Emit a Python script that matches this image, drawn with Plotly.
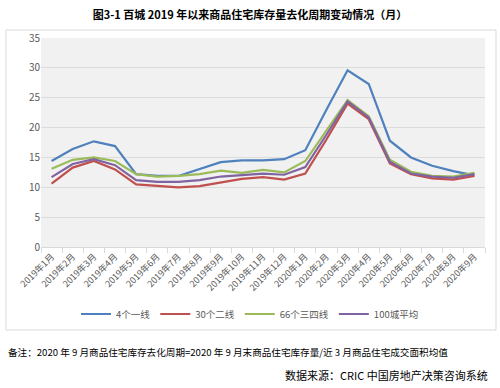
import plotly.graph_objects as go

months = ["2019年1月", "2019年2月", "2019年3月", "2019年4月", "2019年5月", "2019年6月",
          "2019年7月", "2019年8月", "2019年9月", "2019年10月", "2019年11月", "2019年12月",
          "2020年1月", "2020年2月", "2020年3月", "2020年4月", "2020年5月", "2020年6月",
          "2020年7月", "2020年8月", "2020年9月"]

tier1 = [14.4, 16.4, 17.7, 16.9, 12.2, 11.9, 11.9, 13.0, 14.2, 14.5, 14.5, 14.7,
         16.2, 23.0, 29.6, 27.3, 17.8, 15.0, 13.6, 12.7, 12.0]
tier2 = [10.6, 13.3, 14.4, 13.0, 10.5, 10.2, 10.0, 10.2, 10.8, 11.4, 11.7, 11.3,
         12.3, 18.0, 24.0, 21.4, 14.0, 12.2, 11.5, 11.3, 11.9]
tier34 = [13.1, 14.6, 15.0, 14.4, 12.2, 11.8, 11.9, 12.2, 12.8, 12.4, 12.9, 12.5,
          14.4, 19.5, 24.6, 21.9, 14.6, 12.6, 11.9, 11.8, 12.4]
avg100 = [11.7, 13.9, 14.7, 13.7, 11.2, 10.9, 10.9, 11.2, 11.8, 12.1, 12.3, 12.1,
          13.4, 18.8, 24.4, 21.7, 14.3, 12.3, 11.8, 11.6, 12.2]

series_names = ["4个一线", "30个二线", "66个三四线", "100城平均"]
series_values = [tier1, tier2, tier34, avg100]
colors = ["#4F81BD", "#C0504D", "#9BBB59", "#8064A2"]

y_ticks = [0, 5, 10, 15, 20, 25, 30, 35]

FONT = "Noto Sans CJK SC"
W, H = 500, 388
ML, MR, MT, MB = 41, 15, 38, 141
PW, PH = W - ML - MR, H - MT - MB

fig = go.Figure()
for name, vals, c in zip(series_names, series_values, colors):
    fig.add_trace(go.Scatter(x=months, y=vals, name=name, mode="lines",
                             line=dict(color=c, width=2.2)))

fig.update_layout(
    width=W, height=H,
    margin=dict(l=ML, r=MR, t=MT, b=MB, autoexpand=False),
    paper_bgcolor="white",
    plot_bgcolor="#f1f1f1",
    font=dict(family=FONT, size=10, color="#595959"),
    title=dict(text="<b>图3-1 百城 2019 年以来商品住宅库存量去化周期变动情况（月）</b>",
               x=0.5, xanchor="center", xref="container",
               y=1 - 15 / H, yanchor="middle", yref="container",
               font=dict(family=FONT, size=11, color="#000000")),
    legend=dict(orientation="h", x=0.5, xanchor="center", xref="container",
                y=1 - 314 / H, yanchor="middle", yref="container",
                font=dict(family=FONT, size=9.5, color="#595959"),
                itemwidth=30, tracegroupgap=0, bgcolor="rgba(0,0,0,0)"),
    showlegend=True,
)

fig.update_xaxes(
    type="category", tickangle=-45, tickfont=dict(size=9, color="#595959"),
    showgrid=False, showline=True, linecolor="#d9d9d9", linewidth=1,
    ticks="outside", tickson="boundaries", ticklen=5, tickcolor="#d9d9d9",
    range=[-0.5, len(months) - 0.5], automargin=False,
)
fig.update_yaxes(
    range=[0, 35], tickvals=y_ticks, tickfont=dict(size=10, color="#595959"),
    showgrid=True, gridcolor="#dcdcdc", gridwidth=1, zeroline=False,
    showline=False, ticks="", automargin=False,
)

def px_x(p):
    return (p - ML) / PW

def px_y(p):
    return (H - MB - p) / PH

# outer chart border
fig.add_shape(type="rect", xref="paper", yref="paper",
              x0=px_x(6), x1=px_x(496), y0=px_y(330), y1=px_y(30),
              line=dict(color="#d9d9d9", width=1), fillcolor="rgba(0,0,0,0)", layer="below")

fig.add_annotation(xref="paper", yref="paper", x=px_x(6), y=px_y(352), xanchor="left", yanchor="middle",
                   text="备注：2020 年 9 月商品住宅库存去化周期=2020 年 9 月末商品住宅库存量/近 3 月商品住宅成交面积均值",
                   showarrow=False, font=dict(family=FONT, size=9.6, color="#000000"))
fig.add_annotation(xref="paper", yref="paper", x=px_x(490), y=px_y(375), xanchor="right", yanchor="middle",
                   text="数据来源：CRIC 中国房地产决策咨询系统",
                   showarrow=False, font=dict(family=FONT, size=11, color="#000000"))

fig.write_html("out.html", config={"displayModeBar": False},
               post_script="document.body.style.margin='0';document.body.style.overflow='hidden';")
